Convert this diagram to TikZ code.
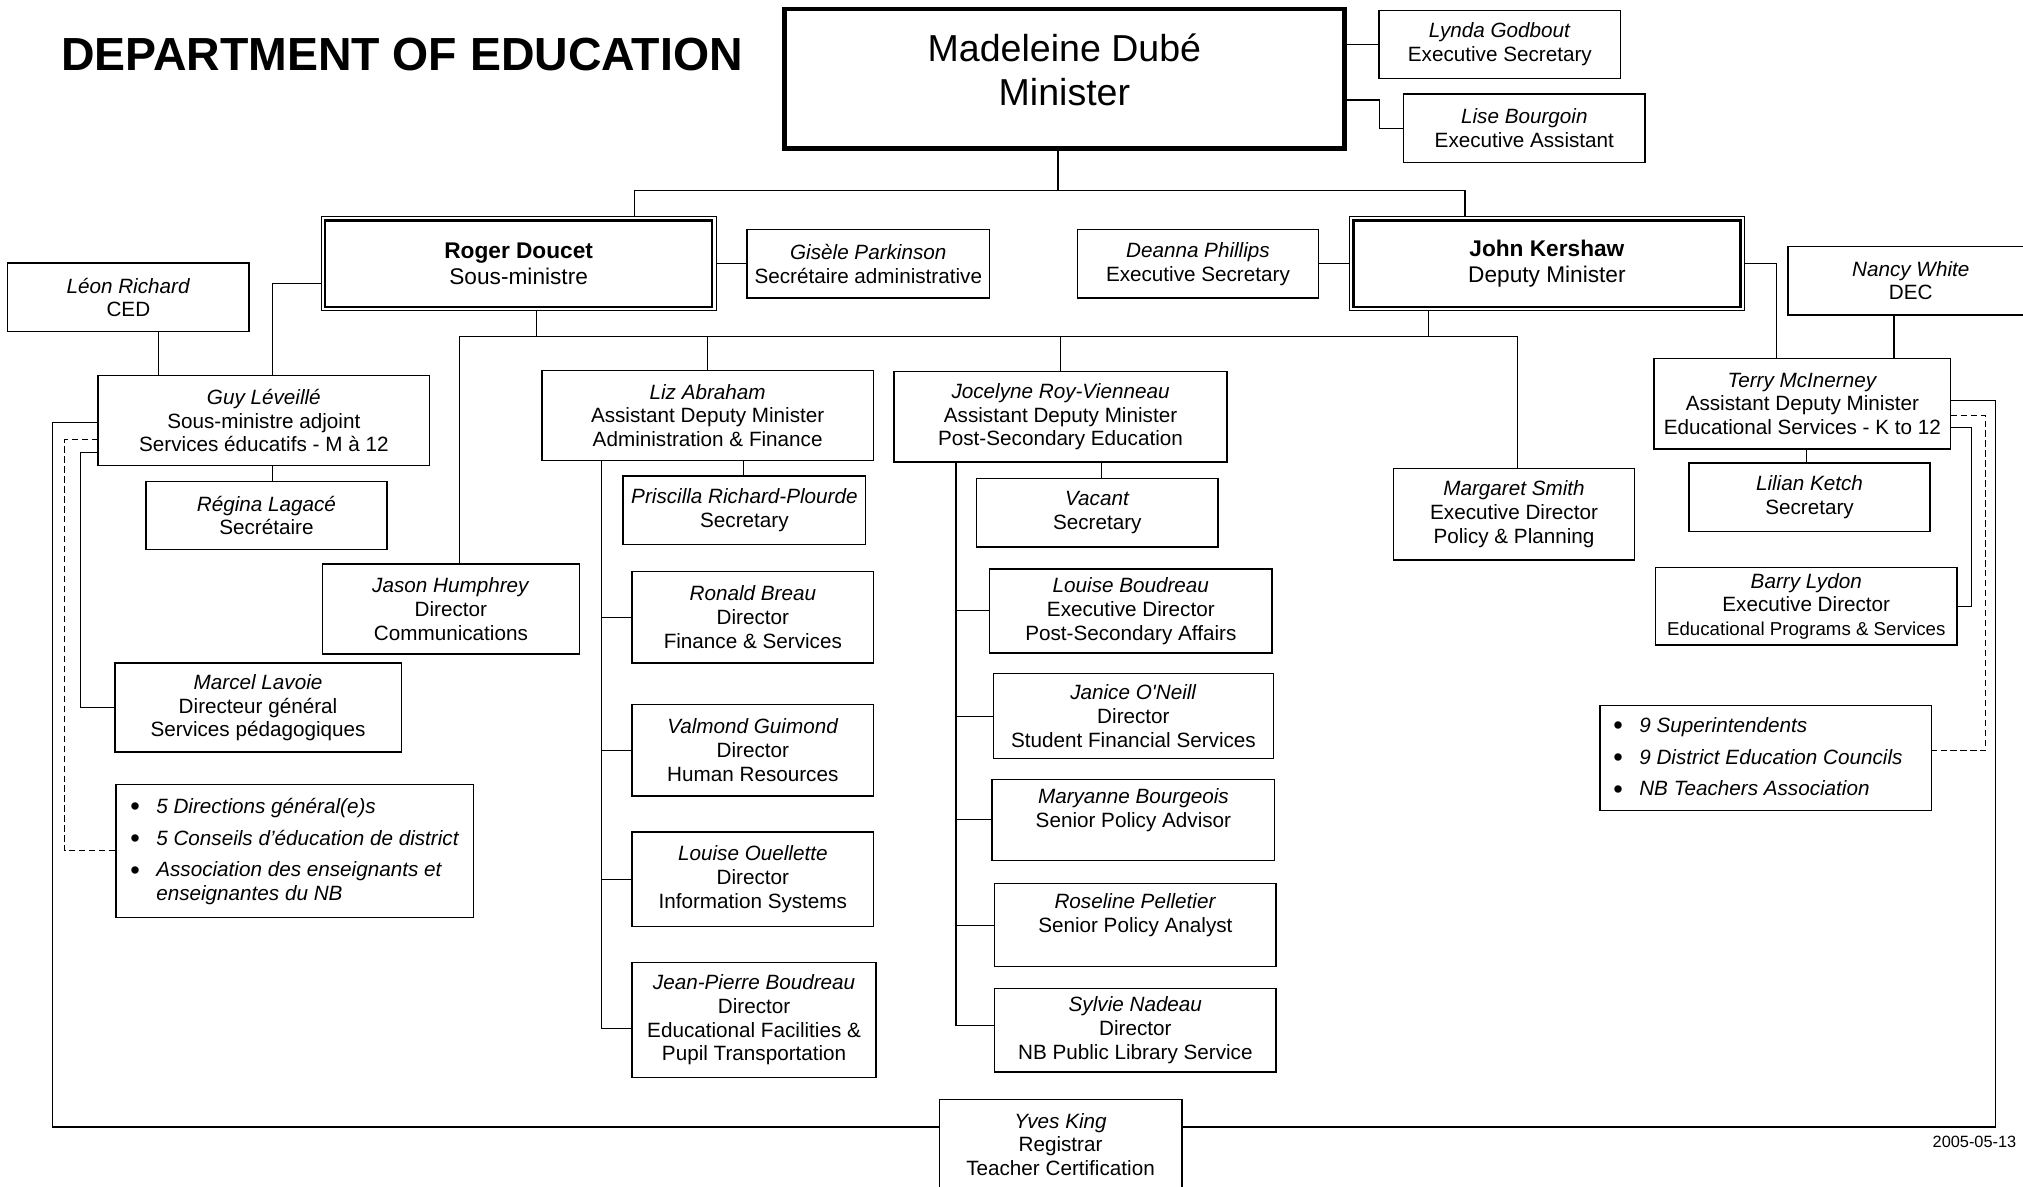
\documentclass[tikz,border=0pt]{standalone}
\usepackage{fontspec}
\setmainfont{Liberation Sans}
\newcommand{\itemdot}{\raisebox{-1.2pt}{\fontsize{15}{13}\selectfont\textbullet}}
\begin{document}
\begin{tikzpicture}[x=0.25mm,y=-0.25mm,
    post/.style 2 args={draw,line width=0.8pt,align=center,inner sep=1pt,outer sep=0pt,
        minimum width=#1*0.25mm,minimum height=#2*0.25mm,font=\fontsize{11.4}{13.1}\selectfont},
    chief/.style={line width=0.5pt,font=\fontsize{12.5}{14.2}\selectfont},
    link/.style={line width=0.6pt},
    dotlink/.style={line width=0.6pt,dash pattern=on 3.5pt off 2pt}]
    \useasboundingbox (0,0) rectangle (1568,920);
    \node[anchor=west,inner sep=0pt,font=\fontsize{25.6}{30}\selectfont\bfseries] (title) at (47,42) {DEPARTMENT OF EDUCATION};
    \node[post={434}{108},line width=2.4pt,text depth=9.5pt,font=\fontsize{20.7}{24.2}\selectfont] (min) at (825,61) {Madeleine Dubé\\Minister};
    \node[post={187}{53}] (lynda) at (1162.5,34.5) {\textit{Lynda Godbout}\\Executive Secretary};
    \node[post={187}{53}] (lise) at (1181.5,99.5) {\textit{Lise Bourgoin}\\Executive Assistant};
    \node[post={306}{73},chief] (roger) at (402,204.5) {\textbf{Roger Doucet}\\Sous-ministre};
    \node[post={188}{53}] (gisele) at (673,204.5) {\textit{Gisèle Parkinson}\\Secrétaire administrative};
    \node[post={187}{53}] (leon) at (99.5,230.5) {\textit{Léon Richard}\\CED};
    \node[post={187}{53}] (deanna) at (928.5,204.5) {\textit{Deanna Phillips}\\Executive Secretary};
    \node[post={306}{73},chief] (john) at (1199,204.5) {\textbf{John Kershaw}\\Deputy Minister};
    \node[post={190}{53}] (nancy) at (1481,217.5) {\textit{Nancy White}\\DEC};
    \node[post={257}{70}] (guy) at (204.5,326) {\textit{Guy Léveillé}\\Sous-ministre adjoint\\Services éducatifs - M à 12};
    \node[post={187}{53}] (regina) at (206.5,399.5) {\textit{Régina Lagacé}\\Secrétaire};
    \node[post={199}{70}] (jason) at (349.5,472) {\textit{Jason Humphrey}\\Director\\Communications};
    \node[post={222}{69}] (marcel) at (200,548.5) {\textit{Marcel Lavoie}\\Directeur général\\Services pédagogiques};
    \node[post={277}{103},text depth=26.5pt] (leftlist) at (228.5,659.5) {\begin{tabular}{@{}l@{\hspace{3.2mm}}l@{}}
        \itemdot & \textit{5 Directions général(e)s}\\[4.5pt]
        \itemdot & \textit{5 Conseils d’éducation de district}\\[4.5pt]
        \itemdot & \textit{Association des enseignants et}\\
        & \textit{enseignantes du NB}
    \end{tabular}};
    \node[post={257}{70}] (liz) at (548.5,322) {\textit{Liz Abraham}\\Assistant Deputy Minister\\Administration \& Finance};
    \node[post={188}{53}] (priscilla) at (577,395.5) {\textit{Priscilla Richard-Plourde}\\Secretary};
    \node[post={187}{71}] (ronald) at (583.5,478.5) {\textit{Ronald Breau}\\Director\\Finance \& Services};
    \node[post={187}{71}] (valmond) at (583.5,581.5) {\textit{Valmond Guimond}\\Director\\Human Resources};
    \node[post={187}{73}] (ouellette) at (583.5,681.5) {\textit{Louise Ouellette}\\Director\\Information Systems};
    \node[post={189}{89}] (jp) at (584.5,790.5) {\textit{Jean-Pierre Boudreau}\\Director\\Educational Facilities \&\\Pupil Transportation};
    \node[post={258}{70}] (joce) at (822,323) {\textit{Jocelyne Roy-Vienneau}\\Assistant Deputy Minister\\Post-Secondary Education};
    \node[post={187}{53}] (vacant) at (850.5,397.5) {\textit{Vacant}\\Secretary};
    \node[post={219}{65}] (lboudreau) at (876.5,473.5) {\textit{Louise Boudreau}\\Executive Director\\Post-Secondary Affairs};
    \node[post={217}{66}] (janice) at (878.5,555) {\textit{Janice O\textquotesingle Neill}\\Director\\Student Financial Services};
    \node[post={219}{63}] (maryanne) at (878.5,635.5) {\textit{Maryanne Bourgeois}\\Senior Policy Advisor\\\mbox{}};
    \node[post={218}{64}] (roseline) at (880,717) {\textit{Roseline Pelletier}\\Senior Policy Analyst\\\mbox{}};
    \node[post={218}{65}] (sylvie) at (880,798.5) {\textit{Sylvie Nadeau}\\Director\\NB Public Library Service};
    \node[post={187}{71}] (margaret) at (1173.5,398.5) {\textit{Margaret Smith}\\Executive Director\\Policy \& Planning};
    \node[post={230}{70}] (terry) at (1397,313) {\textit{Terry McInerney}\\Assistant Deputy Minister\\Educational Services - K to 12};
    \node[post={187}{53}] (lilian) at (1402.5,385.5) {\textit{Lilian Ketch}\\Secretary};
    \node[post={234}{60}] (barry) at (1400,470) {\textit{Barry Lydon}\\Executive Director\\{\fontsize{10.3}{12}\selectfont Educational Programs \& Services}};
    \node[post={257}{81},text depth=20pt] (rightlist) at (1368.5,587.5) {\begin{tabular}{@{}l@{\hspace{3.2mm}}l@{}}
        \itemdot & \textit{9 Superintendents}\\[4.5pt]
        \itemdot & \textit{9 District Education Councils}\\[4.5pt]
        \itemdot & \textit{NB Teachers Association}
    \end{tabular}\hspace{3mm}};
    \node[post={188}{70}] (yves) at (822,887) {\textit{Yves King}\\Registrar\\Teacher Certification};
    \node[anchor=east,inner sep=0pt,font=\fontsize{9}{11}\selectfont] (date) at (1563,885) {2005-05-13};
    \foreach \n in {roger,john} {
        \draw[line width=1.3pt] ([shift={(3,3)}]\n.north west) rectangle ([shift={(-3,-3)}]\n.south east);
    }
    \draw[link] (min.east |- lynda.west) -- (lynda.west);
    \draw[link] (min.east |- 0,77.5) -- (lynda.west |- 0,77.5) |- (lise.west);
    \coordinate (mbus) at (820,147.5);
    \draw[link] (min.south -| mbus) -- (mbus);
    \draw[link] (roger.north -| 492,0) |- (mbus) -| (john.north -| 1135.5,0);
    \draw[link] (roger.east) -- (gisele.west);
    \draw[link] (john.west) -- (deanna.east);
    \draw[link] (roger.west |- 0,220) -| (guy.north -| 211,0);
    \draw[link] (leon.south -| 123,0) -- (guy.north -| 123,0);
    \coordinate (rbus) at (416,261);
    \draw[link] (roger.south -| rbus) -- (rbus);
    \draw[link] (jason.north -| 356,0) |- (rbus) -| (margaret.north -| 1176,0);
    \foreach \n in {liz,joce} {
        \draw[link] (\n.north) -- (\n.north |- rbus);
    }
    \draw[link] (john.south -| 1107,0) -- (rbus -| 1107,0);
    \draw[link] (guy.south -| 211,0) -- (regina.north -| 211,0);
    \draw[link] (guy.west |- 0,351) -- ++(-13.5,0) |- (marcel.west);
    \draw[dotlink] (guy.west |- 0,341) -- ++(-26,0) |- (leftlist.west);
    \draw[link] (guy.west |- 0,327.5) -- ++(-35.5,0) |- (yves.west |- 0,873.5);
    \draw[link] (yves.east |- 0,873.5) -- ++(631,0) |- (terry.east |- 0,310.5);
    \draw[dotlink] (terry.east |- 0,322) -- ++(27,0) |- (rightlist.east |- 0,582);
    \draw[link] (terry.east |- 0,331.5) -- ++(16,0) |- (barry.east);
    \draw[link] (john.east) -| (terry.north -| 1377,0);
    \draw[link] (nancy.south -| 1468,0) -- (terry.north -| 1468,0);
    \draw[link] (terry.south -| 1400,0) -- (lilian.north -| 1400,0);
    \draw[link] (liz.south -| 576,0) -- (priscilla.north -| 576,0);
    \draw[link] (liz.south -| 466,0) |- (jp.west |- 0,797);
    \foreach \n in {ronald,valmond,ouellette} {
        \draw[link] (\n.west) -- (\n.west -| 466,0);
    }
    \draw[link] (joce.south -| 854,0) -- (vacant.north -| 854,0);
    \draw[link] (joce.south -| 741,0) |- (sylvie.west |- 0,795);
    \foreach \n in {lboudreau,janice,maryanne,roseline} {
        \draw[link] (\n.west) -- (\n.west -| 741,0);
    }
\end{tikzpicture}
\end{document}
